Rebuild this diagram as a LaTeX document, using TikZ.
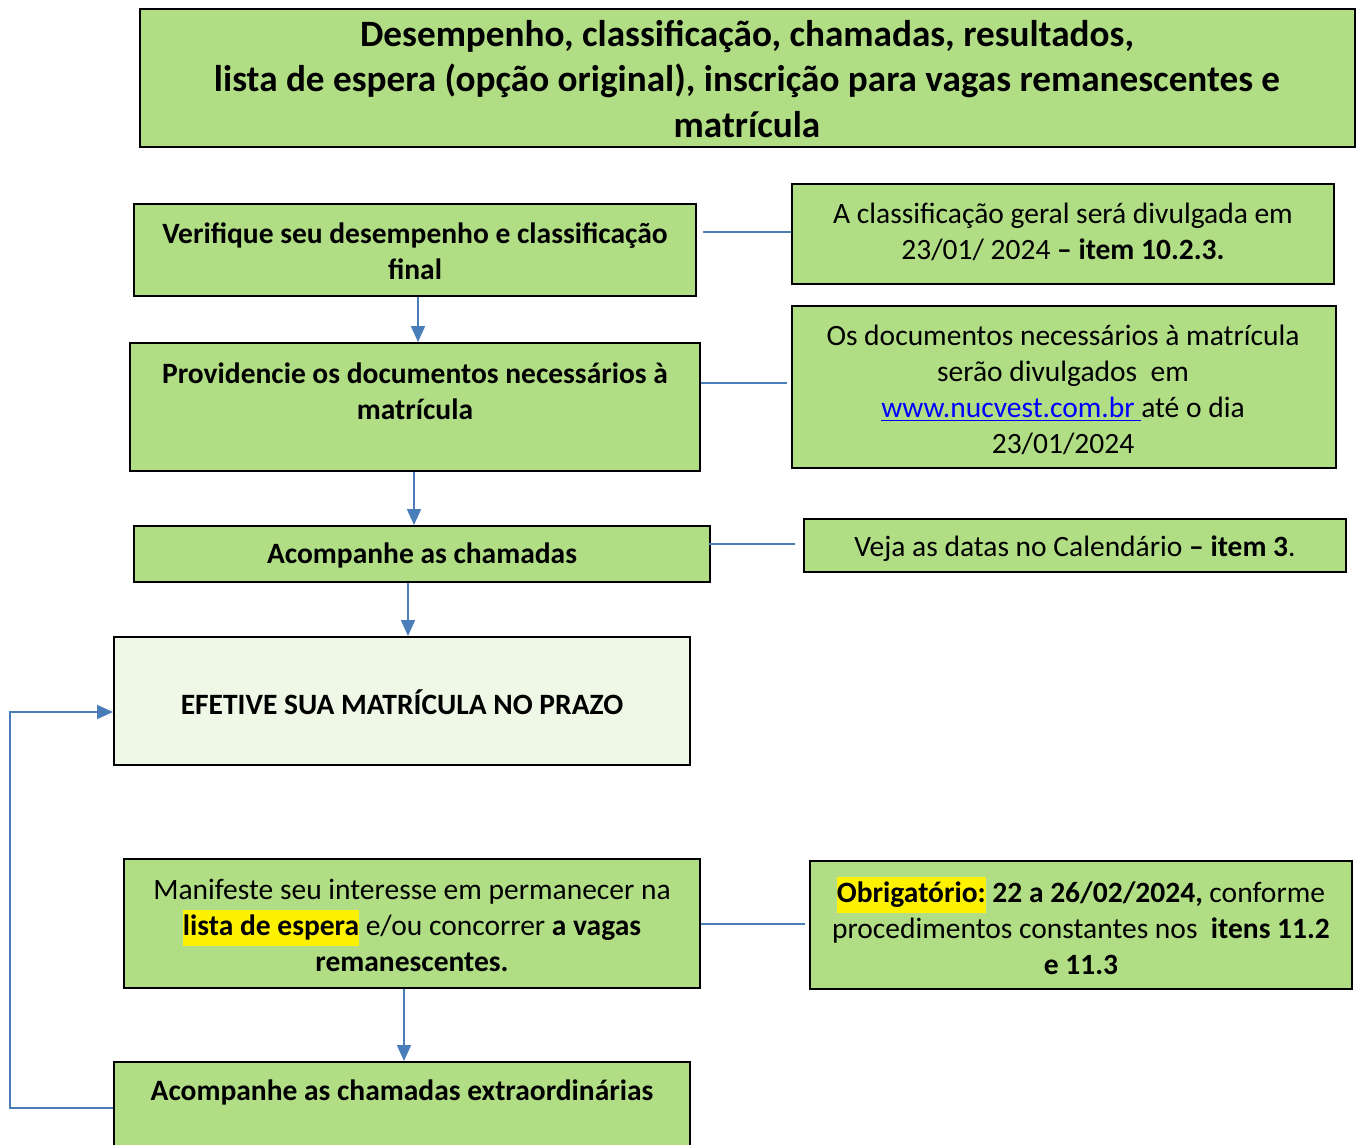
\documentclass[tikz,border=0pt]{standalone}
\usepackage{fontspec}
\setmainfont{Carlito}
\usetikzlibrary{arrows.meta,calc}
\definecolor{boxgreen}{HTML}{B1DD85}
\definecolor{lightgreen}{HTML}{EFF7E7}
\definecolor{connblue}{HTML}{4A7EBB}
\definecolor{linkblue}{HTML}{0000FF}
\newcommand{\hl}[1]{{\setlength{\fboxsep}{0pt}\colorbox{yellow}{\strut #1}}}
\begin{document}
\begin{tikzpicture}[x=0.5pt,y=-0.5pt,
  box/.style={draw=black, line width=1pt, fill=boxgreen, inner sep=0pt},
  txt/.style={align=center, inner sep=0pt, font=\fontsize{14.75}{18}\selectfont},
  ttl/.style={align=center, inner sep=0pt, font=\fontsize{18.6}{22.6}\selectfont\bfseries},
  conn/.style={draw=connblue, line width=1pt},
  arr/.style={-{Triangle[length=8pt,width=7pt]}}]
\useasboundingbox (0,0) rectangle (1360,1145);
% boxes (pixel coordinates)
\node[box, minimum width=607.5pt, minimum height=69pt] (title) at (747.5,78) {};
\node[box, minimum width=281pt, minimum height=46pt] (b1) at (415,250) {};
\node[box, minimum width=271pt, minimum height=50pt] (r1) at (1063,234) {};
\node[box, minimum width=285pt, minimum height=64pt] (b2) at (415,407) {};
\node[box, minimum width=272pt, minimum height=81pt] (r2) at (1064,387) {};
\node[box, minimum width=288pt, minimum height=28pt] (b3) at (422,554) {};
\node[box, minimum width=271pt, minimum height=26.5pt] (r3) at (1075,545.5) {};
\node[box, fill=lightgreen, minimum width=288pt, minimum height=64pt] (b4) at (402,701) {};
\node[box, minimum width=288pt, minimum height=64.5pt] (b5) at (412,923.5) {};
\node[box, minimum width=271pt, minimum height=64pt] (r5) at (1081,925) {};
\node[box, minimum width=288pt, minimum height=52pt] (b6) at (402,1114) {};
% texts
\node[ttl] (ttext) at (747,79) {Desempenho, classificação, chamadas, resultados,\\lista de espera (opção original), inscrição para vagas remanescentes e\\matrícula};
\node[txt, font=\fontsize{14.75}{18}\selectfont\bfseries] (t1) at (415,251) {Verifique seu desempenho e classificação\\final};
\node[txt] (tr1) at (1063,232) {A classificação geral será divulgada em\\23/01/ 2024 \textbf{– item 10.2.3.}};
\node[txt, font=\fontsize{14.75}{18}\selectfont\bfseries] (t2) at (415,391) {Providencie os documentos necessários à\\matrícula};
\node[txt] (tr2) at (1063,390) {Os documentos necessários à matrícula\\serão divulgados\ \ em\\{\color{linkblue}\underline{www.nucvest.com.br }}até o dia\\23/01/2024};
\node[txt, font=\fontsize{14.75}{18}\selectfont\bfseries] (t3) at (422,555) {Acompanhe as chamadas};
\node[txt] (tr3) at (1075,549) {Veja as datas no Calendário \textbf{– item 3}.};
\node[txt, font=\fontsize{14.75}{18}\selectfont\bfseries] (t4) at (402,702) {EFETIVE SUA MATRÍCULA NO PRAZO};
\node[txt] (t5) at (412,925) {Manifeste seu interesse em permanecer na\\\hl{\textbf{lista de espera}} e/ou concorrer \textbf{a vagas}\\\textbf{remanescentes.}};
\node[txt] (tr5) at (1081,926) {\hl{\textbf{Obrigatório:}} \textbf{22 a 26/02/2024,} conforme\\procedimentos constantes nos\ \ \textbf{itens 11.2}\\\textbf{e 11.3}};
\node[txt, font=\fontsize{14.75}{18}\selectfont\bfseries] (t6) at (402,1092) {Acompanhe as chamadas extraordinárias};
% side connectors
\coordinate (c1) at ([xshift=3pt,yshift=9pt]b1.east);
\draw[conn] (c1) -- (c1 -| r1.west);
\coordinate (c2) at ([yshift=12pt]b2.east);
\draw[conn] (c2) -- ([xshift=-2pt]c2 -| r2.west);
\coordinate (c3) at ([xshift=-1pt,yshift=5pt]b3.east);
\draw[conn] (c3) -- ([xshift=-4pt]c3 -| r3.west);
\coordinate (c5) at (b5.east);
\draw[conn] (c5) -- ([xshift=-2pt]c5 -| r5.west);
% vertical arrows
\coordinate (a1) at ([xshift=1.5pt]b1.south);
\draw[conn,arr] (a1) -- (a1 |- b2.north);
\coordinate (a2) at ([xshift=-0.5pt]b2.south);
\draw[conn,arr] (a2) -- (a2 |- b3.north);
\coordinate (a3) at ([xshift=-7pt]b3.south);
\draw[conn,arr] (a3) -- (a3 |- b4.north);
\coordinate (a5) at ([xshift=-4pt]b5.south);
\draw[conn,arr] (a5) -- (a5 |- b6.north);
% loop back
\coordinate (lp) at (10,712);
\coordinate (lb) at ([yshift=3pt]b6.west);
\draw[conn,arr] (lb) -| (lp) -- (lp -| b4.west);
\end{tikzpicture}
\end{document}
